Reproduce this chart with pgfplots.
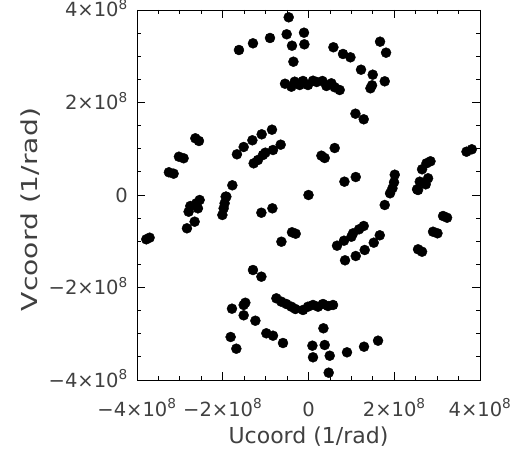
\documentclass[border=0pt]{standalone}
\usepackage{fontspec}
\setmainfont{DejaVu Sans}
\usepackage{pgfplots}
\pgfplotsset{compat=1.18}
\begin{document}
\begin{tikzpicture}
\begin{axis}[
  scale only axis, width=343bp, height=370bp,
  xmin=-4, xmax=4, ymin=-4, ymax=4,
  xtick={-4,-2,0,2,4}, ytick={-4,-2,0,2,4},
  xticklabels={−4×10\textsuperscript{8},−2×10\textsuperscript{8},0,2×10\textsuperscript{8},4×10\textsuperscript{8}},
  yticklabels={−4×10\textsuperscript{8},−2×10\textsuperscript{8},0,2×10\textsuperscript{8},4×10\textsuperscript{8}},
  minor tick num=3,
  tick align=inside,
  major tick length=8bp, minor tick length=4bp,
  axis line style={line width=0.9bp},
  every tick/.style={line width=0.8bp, black},
  every tick label/.append style={font=\fontsize{19.5bp}{23bp}\selectfont, text=black!75},
  xticklabel style={inner sep=0pt, anchor=base, yshift=-36bp},
  yticklabel style={inner sep=0pt, anchor=base east, xshift=-9bp, yshift=-7bp},
  xlabel={Ucoord (1/rad)},
  ylabel={\scalebox{1.28}[1]{Vcoord (1/rad)}},
  label style={font=\fontsize{22bp}{26bp}\selectfont, text=black!75},
  xlabel style={at={(axis description cs:0.5,-0.1703)}, anchor=base},
  ylabel style={at={(axis description cs:-0.2915,0.4608)}, anchor=base},
]
\addplot[only marks, mark=*, mark size=5bp, black, mark options={fill=black, draw=black}] coordinates {
(-0.462,3.842) (-1.622,3.135) (-1.295,3.280) (-0.898,3.395) (-0.509,3.475)
(-0.105,3.509) (-0.385,3.228) (-0.096,3.258) (-0.352,2.882)
(-0.548,2.406) (-0.399,2.342) (-0.322,2.450) (-0.205,2.378) (-0.128,2.465)
(-0.012,2.378) (0.105,2.471) (0.191,2.443) (0.324,2.465) (0.418,2.357)
(0.534,2.415) (0.611,2.329) (0.728,2.270)
(0.581,3.194) (0.805,3.049) (0.978,2.977) (1.225,2.709) (1.498,2.601)
(1.669,3.315) (1.809,3.077) (1.778,2.458) (1.445,2.307) (1.482,2.372)
(1.095,1.758) (1.288,1.637) (0.611,1.016) (0.301,0.850) (0.378,0.800)
(0.838,0.288) (1.102,0.389) (3.685,0.936) (3.809,0.988)
(2.012,0.439) (1.995,0.275) (1.958,0.145) (1.902,0.037)
(2.845,0.729) (2.751,0.685) (2.649,0.556) (2.789,0.361) (2.735,0.231)
(2.595,0.288) (2.532,0.123)
(-3.256,0.491) (-3.146,0.461) (-3.022,0.828) (-2.913,0.794) (-2.639,1.226)
(-2.555,1.168) (-1.669,0.880) (-1.512,1.038) (-1.309,1.183) (-1.092,1.312)
(-0.852,1.412) (-1.279,0.685) (-1.179,0.757) (-1.062,0.865) (-1.006,0.915)
(-0.828,0.973) (-0.649,1.088) (-1.776,0.210) (-1.932,-0.037) (0,0)
(-2.539,-0.108) (-2.616,-0.179) (-2.579,-0.288) (-2.796,-0.361) (-2.756,-0.238)
(-2.656,-0.577) (-2.835,-0.720) (-1.916,-0.037) (-1.956,-0.179) (-2.009,-0.432)
(-1.979,-0.288) (-3.783,-0.958) (-3.706,-0.923) (-1.099,-0.383) (-0.842,-0.288)
(-0.632,-1.010) (-0.385,-0.806) (-0.299,-0.837) (-1.295,-1.622) (-1.099,-1.766)
(-1.785,-2.458) (-1.473,-2.329) (-1.512,-2.378) (-1.512,-2.601) (-1.239,-2.718)
(-1.816,-3.070) (-1.683,-3.323) (-0.983,-2.990) (-0.828,-3.042) (-0.595,-3.200)
(-0.749,-2.234) (-0.632,-2.307) (-0.516,-2.357) (-0.399,-2.415) (-0.306,-2.465)
(-0.128,-2.486) (-0.012,-2.415) (0.105,-2.378) (0.222,-2.415) (0.338,-2.357)
(0.455,-2.400) (0.572,-2.378)
(1.778,-0.216) (2.555,0.108) (3.139,-0.454) (3.232,-0.491) (2.905,-0.794)
(3.008,-0.828) (2.555,-1.174) (2.649,-1.226)
(0.665,-1.096) (0.828,-0.988) (1.001,-0.902) (1.039,-0.828) (1.179,-0.742)
(1.288,-0.670) (0.852,-1.412) (1.102,-1.319) (1.311,-1.189) (1.522,-1.031)
(1.662,-0.871) (0.348,-2.882) (0.091,-3.258) (0.378,-3.243) (0.105,-3.509)
(0.495,-3.475) (0.898,-3.401) (1.295,-3.280) (1.622,-3.150) (0.471,-3.842)
};
\end{axis}
\pgfresetboundingbox
\path[use as bounding box] ([shift={(-137bp,-70bp)}]current axis.south west) rectangle ([shift={(43bp,10bp)}]current axis.north east);
\end{tikzpicture}
\end{document}
